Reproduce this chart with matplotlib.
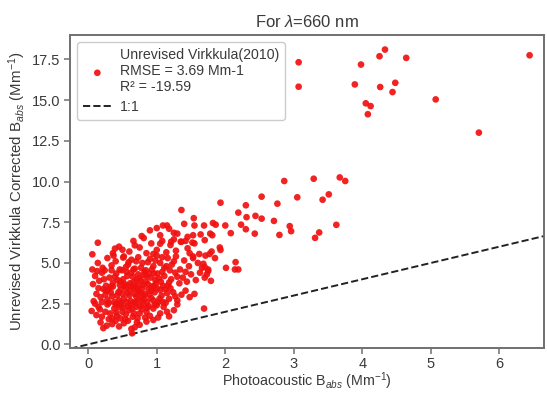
import matplotlib
matplotlib.use("Agg")
import matplotlib.pyplot as plt
import numpy as np

# ---- data ----
cluster_x = [0.64,0.63,0.22,0.27,0.35,0.45,0.52,0.75,0.85,0.58,0.40,0.18,0.68,0.95,0.30,
 0.05,0.12,0.15,0.20,0.25,0.32,0.38,0.42,0.48,0.55,0.60,0.65,0.70,0.75,0.80,0.85,0.90,0.95,1.00,1.05,1.10,1.18,1.25,1.30,0.28,0.50,0.62,0.72,0.88,1.15,0.10,0.35,0.45,0.78,1.02,
 0.08,0.12,0.18,0.22,0.28,0.33,0.38,0.42,0.47,0.52,0.57,0.62,0.66,0.70,0.74,0.78,0.83,0.88,0.92,0.97,1.02,1.07,1.12,1.18,1.24,1.30,1.36,1.42,1.48,1.55,0.15,0.25,0.45,0.55,0.60,0.68,0.80,0.95,1.00,1.15,0.35,0.50,0.72,0.86,1.27,
 0.07,0.10,0.16,0.20,0.26,0.31,0.36,0.41,0.46,0.51,0.56,0.61,0.65,0.69,0.73,0.77,0.82,0.87,0.91,0.96,1.01,1.06,1.11,1.16,1.21,1.27,1.33,1.38,1.44,1.50,1.57,1.63,1.70,1.75,0.13,0.23,0.33,0.43,0.53,0.63,0.71,0.80,0.89,0.98,1.08,1.18,1.30,1.42,
 0.06,0.14,0.21,0.28,0.34,0.40,0.46,0.52,0.58,0.63,0.68,0.73,0.79,0.84,0.90,0.95,1.00,1.05,1.11,1.16,1.22,1.28,1.34,1.40,1.47,1.53,1.60,1.66,1.85,0.37,0.55,0.87,1.08,1.25,0.24,0.70,0.98,1.19,
 0.36,0.45,0.60,0.75,0.85,0.92,1.00,1.08,1.14,1.20,1.28,1.35,1.45,1.55,1.62,0.66,0.95,1.25,1.48,
 1.05,1.25,0.90,1.18,1.45,
 0.30,0.36,0.40,0.44,0.48,0.53,0.58,0.61,0.64,0.67,0.70,0.73,0.76,0.79,0.82,0.84,0.86,0.89,0.93,0.97,0.99,1.04,1.09,1.13,1.20,0.57,0.66,0.75,0.85,0.93,1.03,0.49,0.39,0.29,0.20,0.56,0.68,0.77,0.92,1.05,0.43,0.52,0.62,0.74,0.81,0.47,0.59,0.77,0.96,1.14,0.34,0.26,0.17,0.41,0.67,0.83,0.54,0.71,0.47,1.09]
cluster_y = [0.68,0.95,1.00,1.15,1.25,1.10,1.30,1.20,1.40,1.45,1.45,1.35,1.05,1.50,1.55,
 2.05,1.80,2.30,1.70,2.00,1.90,2.20,1.75,2.40,1.85,2.10,1.70,2.30,1.90,2.45,2.00,1.75,2.20,2.40,1.90,2.30,1.72,2.10,2.45,2.45,2.00,2.45,1.60,2.35,2.00,2.50,1.60,2.30,2.15,1.65,
 2.65,3.10,2.90,3.40,2.75,3.20,2.60,3.00,3.35,2.80,3.15,2.65,3.45,2.95,3.25,2.70,3.10,3.40,2.85,3.20,2.60,3.00,3.40,2.80,3.20,2.70,3.05,3.30,2.90,3.10,3.45,3.05,2.70,3.45,3.00,2.60,3.00,2.70,3.45,3.15,2.95,3.10,3.35,2.60,2.95,
 3.70,4.20,3.90,4.40,3.60,4.10,3.80,4.35,3.65,4.00,4.45,3.75,4.15,3.55,4.30,3.90,4.45,3.70,4.10,3.60,4.35,3.85,4.20,3.60,4.00,4.40,3.75,4.10,3.85,4.30,3.95,4.40,4.10,4.60,4.50,4.00,3.55,3.95,3.60,4.40,3.95,3.65,4.35,3.95,4.45,3.80,4.15,4.45,
 4.60,5.00,4.70,5.30,4.85,5.10,4.60,5.40,4.90,5.20,4.65,5.35,5.00,4.55,5.25,4.80,5.45,5.00,4.70,5.30,4.90,5.40,4.60,5.15,4.80,5.40,5.00,4.70,5.30,5.45,4.75,5.05,5.35,5.10,4.55,5.10,5.15,4.55,
 5.60,6.00,5.70,5.95,5.60,6.20,5.80,6.35,5.65,6.10,5.75,6.30,5.90,6.20,5.55,6.35,5.55,6.45,5.60,
 6.70,6.85,7.00,7.10,6.60,
 2.55,3.55,2.45,3.20,2.55,3.70,2.35,3.30,2.20,3.85,2.55,3.60,2.35,3.45,2.80,3.85,2.25,3.05,3.55,2.45,3.75,2.80,3.60,2.55,3.45,4.20,4.60,4.05,4.20,4.60,4.05,4.55,4.15,3.35,2.60,2.60,3.10,3.15,3.30,3.35,2.50,2.25,3.60,2.80,4.25,3.85,5.05,4.70,4.35,4.80,4.55,3.30,2.15,1.95,1.90,1.65,1.55,1.35,1.60,2.60]

spread_x = [0.14,0.06,0.39,0.50,0.51,0.68,0.78,0.81,1.00,1.09,1.15,1.05,1.36,1.93,1.54,1.40,1.55,1.69,1.82,1.86,2.00,1.78,1.81,1.30,1.53,1.64,1.21,1.36,1.42,1.52,1.70,1.92,1.93,1.80,1.77,1.71,1.53,1.68,1.70,2.15,2.01,2.14,2.19,1.79,1.75,1.73,1.69,
 2.86,3.29,3.67,3.75,2.53,3.05,3.51,3.42,2.30,2.76,2.19,2.31,2.44,2.53,2.71,2.23,2.30,2.43,2.94,2.96,2.79,3.62,3.37,3.31,2.08]
spread_y = [6.24,5.53,5.88,5.81,5.33,6.08,6.65,6.53,7.14,7.30,7.30,6.18,8.25,8.70,7.75,7.40,7.30,7.30,7.45,7.35,7.30,6.80,6.70,6.80,6.70,6.75,6.30,6.30,6.35,6.25,6.40,5.95,5.80,5.70,5.55,5.45,5.30,4.95,4.75,5.05,4.70,4.60,4.60,3.90,4.50,4.30,2.20,
 10.03,10.17,10.25,10.03,9.07,9.03,9.21,8.88,8.54,8.64,8.09,7.81,7.89,7.72,7.58,7.35,7.07,6.80,7.26,6.95,6.72,7.34,6.87,6.54,6.83]

outlier_x = [3.07,3.07,3.98,3.89,4.25,4.33,4.64,4.26,4.48,4.44,4.05,4.12,4.08,5.07,6.44,5.70]
outlier_y = [17.32,15.82,17.18,15.96,17.69,18.10,17.59,15.80,16.06,15.49,14.80,14.63,14.13,15.04,17.75,13.00]

pa_babs = np.array(cluster_x + spread_x + outlier_x)
virk_babs = np.array(cluster_y + spread_y + outlier_y)

series_label = "Unrevised Virkkula(2010)\nRMSE = 3.69 Mm-1\nR\u00b2 = -19.59"
line_label = "1:1"
title = r"For $\lambda$=660 nm"
xlabel = r"Photoacoustic B$_{abs}$ (Mm$^{-1}$)"
ylabel = r"Unrevised Virkkula Corrected B$_{abs}$ (Mm$^{-1}$)"
xticks = [0, 1, 2, 3, 4, 5, 6]
yticks = [0.0, 2.5, 5.0, 7.5, 10.0, 12.5, 15.0, 17.5]

# ---- style ----
plt.rcParams['font.family'] = ['Liberation Sans', 'DejaVu Sans']
plt.rcParams['mathtext.fontset'] = 'custom'
plt.rcParams['mathtext.rm'] = 'Liberation Sans'
plt.rcParams['mathtext.it'] = 'Liberation Sans:italic'
text_col = '#3a3a3a'
spine_col = '#707070'

fig = plt.figure(figsize=(5.47, 3.94), dpi=100)
ax = fig.add_axes([0.1287, 0.1160, 0.8658, 0.795])

ax.scatter(pa_babs, virk_babs, s=23, color='#f01010', edgecolors='none', alpha=0.92,
           label=series_label, zorder=3)
ax.plot([-0.26, 6.65], [-0.26, 6.65], linestyle='--', color='#222222', linewidth=1.4,
        label=line_label, zorder=2)

ax.set_xlim(-0.26, 6.65)
ax.set_ylim(-0.24, 18.99)
ax.set_xticks(xticks)
ax.set_yticks(yticks)
ax.set_yticklabels([f"{v:.1f}" for v in yticks])

for sp in ax.spines.values():
    sp.set_color(spine_col)
    sp.set_linewidth(1.4)
ax.tick_params(colors=spine_col, labelcolor=text_col, labelsize=10.5, length=4, width=1.1, pad=3)
ax.tick_params(axis='x', pad=2.5)

ax.set_title(title, fontsize=12, color=text_col, pad=6)
ax.set_xlabel(xlabel, fontsize=10.3, color=text_col, labelpad=-0.5)
ax.set_ylabel(ylabel, fontsize=10.8, color=text_col, labelpad=3)

leg = ax.legend(loc='upper left', fontsize=10.2, frameon=True, fancybox=True,
                edgecolor='#cccccc', framealpha=1.0, borderaxespad=0.5,
                handletextpad=0.6, labelspacing=0.4)
for t in leg.get_texts():
    t.set_color(text_col)

fig.savefig("out.png", dpi=100)
